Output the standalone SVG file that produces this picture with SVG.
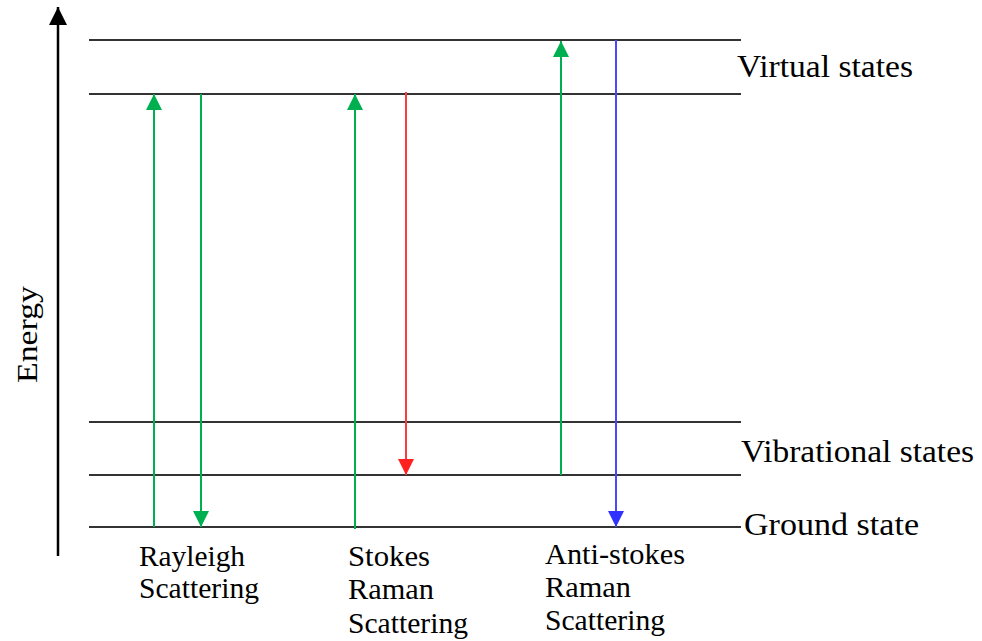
<svg xmlns="http://www.w3.org/2000/svg" width="982" height="641" viewBox="0 0 982 641">
<defs>
<style>
.lvl{stroke:#333;stroke-width:2;fill:none}
.t{font-family:"Liberation Serif","Times New Roman",serif;fill:#000}
.big{font-size:32px}
.sm{font-size:30px}
.g{stroke:#00B050;stroke-width:2;fill:none}
.r{stroke:#FF3B3B;stroke-width:2;fill:none}
.b{stroke:#4A4AFF;stroke-width:2;fill:none}
</style>
<marker id="ag" viewBox="0 0 16 16" refX="16" refY="8" markerWidth="16" markerHeight="16" markerUnits="userSpaceOnUse" orient="auto"><path d="M0,0 L16,8 L0,16 Z" fill="#00B050"/></marker>
<marker id="ar" viewBox="0 0 16 16" refX="16" refY="8" markerWidth="16" markerHeight="16" markerUnits="userSpaceOnUse" orient="auto"><path d="M0,0 L16,8 L0,16 Z" fill="#FF2020"/></marker>
<marker id="ab" viewBox="0 0 16 16" refX="16" refY="8" markerWidth="16" markerHeight="16" markerUnits="userSpaceOnUse" orient="auto"><path d="M0,0 L16,8 L0,16 Z" fill="#3030FF"/></marker>
<marker id="ak" viewBox="0 0 18 18" refX="18" refY="9" markerWidth="18" markerHeight="18" markerUnits="userSpaceOnUse" orient="auto"><path d="M0,0 L18,9 L0,18 Z" fill="#000"/></marker>
</defs>
<rect width="982" height="641" fill="#fff"/>
<g id="axis">
<line x1="58" y1="556" x2="58" y2="7" stroke="#000" stroke-width="2.5" marker-end="url(#ak)"/>
<text class="t" font-size="30" transform="translate(37,383) rotate(-90)" textLength="97" lengthAdjust="spacingAndGlyphs">Energy</text>
</g>
<g id="levels">
<g id="virtual-states">
<line class="lvl" x1="89" y1="40" x2="741" y2="40"/>
<line class="lvl" x1="89" y1="94" x2="741" y2="94"/>
<text class="t big" x="737" y="77" textLength="176" lengthAdjust="spacingAndGlyphs">Virtual states</text>
</g>
<g id="vibrational-states">
<line class="lvl" x1="89" y1="422" x2="741" y2="422"/>
<line class="lvl" x1="89" y1="475" x2="741" y2="475"/>
<text class="t big" x="741" y="462" textLength="233" lengthAdjust="spacingAndGlyphs">Vibrational states</text>
</g>
<g id="ground-state">
<line class="lvl" x1="89" y1="527" x2="741" y2="527"/>
<text class="t big" x="744" y="535" textLength="175" lengthAdjust="spacingAndGlyphs">Ground state</text>
</g>
</g>
<g id="connectors">
<line class="g" x1="154" y1="527" x2="154" y2="94" marker-end="url(#ag)"/>
<line class="g" x1="201" y1="94" x2="201" y2="527" marker-end="url(#ag)"/>
<line class="g" x1="355" y1="529" x2="355" y2="94" marker-end="url(#ag)"/>
<line class="r" x1="406" y1="92" x2="406" y2="475" marker-end="url(#ar)"/>
<line class="g" x1="561" y1="475" x2="561" y2="41" marker-end="url(#ag)"/>
<line class="b" x1="616" y1="40" x2="616" y2="527" marker-end="url(#ab)"/>
</g>
<g id="rayleigh">
<text class="t sm" x="139" y="566" textLength="106" lengthAdjust="spacingAndGlyphs">Rayleigh</text>
<text class="t sm" x="139" y="598" textLength="120" lengthAdjust="spacingAndGlyphs">Scattering</text>
</g>
<g id="stokes">
<text class="t sm" x="348" y="566" textLength="82" lengthAdjust="spacingAndGlyphs">Stokes</text>
<text class="t sm" x="348" y="599" textLength="86" lengthAdjust="spacingAndGlyphs">Raman</text>
<text class="t sm" x="348" y="633" textLength="120" lengthAdjust="spacingAndGlyphs">Scattering</text>
</g>
<g id="anti-stokes">
<text class="t sm" x="545" y="564" textLength="140" lengthAdjust="spacingAndGlyphs">Anti-stokes</text>
<text class="t sm" x="545" y="597" textLength="86" lengthAdjust="spacingAndGlyphs">Raman</text>
<text class="t sm" x="545" y="630" textLength="120" lengthAdjust="spacingAndGlyphs">Scattering</text>
</g>
</svg>
